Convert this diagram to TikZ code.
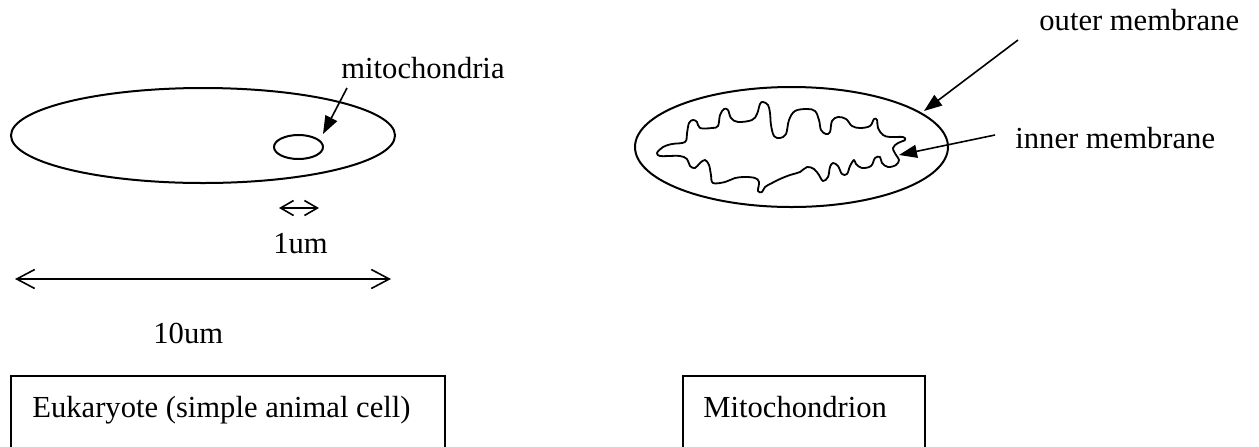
\documentclass[tikz,border=0pt]{standalone}
\usepackage{fontspec}
\setmainfont{Liberation Serif}
\usetikzlibrary{arrows.meta,shapes.geometric}

\begin{document}
\begin{tikzpicture}[x=0.5pt,y=-0.5pt,
  membrane/.style={draw, ellipse, line width=1pt, inner sep=0pt},
  lbl/.style={inner sep=0pt, anchor=base west, font=\fontsize{15.3}{18}\selectfont},
  pointer/.style={line width=0.8pt, -{Triangle[length=9pt,width=6.5pt]}},
  bigspan/.style={line width=0.8pt, {Straight Barb[length=9pt,width=9.5pt]}-{Straight Barb[length=9pt,width=9.5pt]}},
  smallspan/.style={line width=0.8pt, {Straight Barb[length=6.5pt,width=7.5pt]}-{Straight Barb[length=6.5pt,width=7.5pt]}},
  frame/.style={line width=1pt},
  crista/.style={line width=0.9pt, line join=round}]
\clip (0,0) rectangle (1259,446);

% cell with its single mitochondrion
\node[membrane, minimum width=192pt, minimum height=47.5pt] (cell) at (203,135.5) {};
\node[membrane, minimum width=24.5pt, minimum height=12pt] (mt) at (298.5,147) {};
\node[lbl] (mlbl) at (341,78) {mitochondria};
\coordinate (mtail) at (347,88);
\coordinate (mtip) at (323,134);
\draw[pointer] (mtail) -- (mtip);

% scale bars
\coordinate (s1) at (279,208);
\coordinate (s2) at (319,208);
\draw[smallspan] (s1) -- (s2);
\node[lbl, anchor=base] (one) at (300.5,253) {1um};
\coordinate (b1) at (15,279);
\coordinate (b2) at (391,279);
\draw[bigspan] (b1) -- (b2);
\node[lbl] (ten) at (153,343) {10um};

% enlarged mitochondrion
\node[membrane, minimum width=156.5pt, minimum height=60pt] (outer) at (791.5,147) {};
\draw[crista] plot[smooth cycle, tension=0.6] coordinates {
  (657,153) (663,147) (672,144) (685,142) (687,133) (689,123) (693,120) (697,122)
  (700,128) (712,128) (718,126) (720,115) (724,109) (728,110) (731,118) (738,122)
  (752,120) (757,114) (760,104) (763,102) (768,105) (770,113) (771,125) (774,136)
  (780,138) (786,134) (789,120) (795,111) (807,109) (815,111) (819,120) (821,130)
  (826,134) (830,132) (832,121) (838,117) (846,119) (852,126) (860,128) (870,126)
  (874,119) (877,120) (878,128) (883,135) (890,137) (903,137) (905,140) (898,143)
  (893,148) (896,155) (899,160) (896,165) (888,167) (882,163) (880,157) (875,158)
  (871,166) (862,168) (856,164) (854,160) (850,166) (847,174) (842,174) (838,166)
  (833,163) (830,167) (828,177) (823,181) (819,175) (814,169) (807,167) (800,172)
  (790,175) (780,179) (772,183) (765,187) (762,192) (758,191) (759,182) (755,178)
  (745,177) (735,178) (725,182) (713,183) (711,175) (709,165) (705,160) (700,163)
  (695,168) (690,166) (687,159) (680,156) (668,156) (660,156)};

\node[lbl] (olbl) at (1039,30) {outer membrane};
\coordinate (otail) at (1018,40);
\coordinate (otip) at (924,111);
\draw[pointer] (otail) -- (otip);
\node[lbl] (ilbl) at (1015,148) {inner membrane};
\coordinate (itail) at (995,135);
\coordinate (itip) at (899,155);
\draw[pointer] (itail) -- (itip);

% caption boxes, open at the lower edge
\draw[frame] (11,376) rectangle (445,470);
\node[lbl] (euk) at (32,417) {Eukaryote (simple animal cell)};
\draw[frame] (683,376) rectangle (925,470);
\node[lbl] (mitoname) at (703,417) {Mitochondrion};
\end{tikzpicture}
\end{document}
